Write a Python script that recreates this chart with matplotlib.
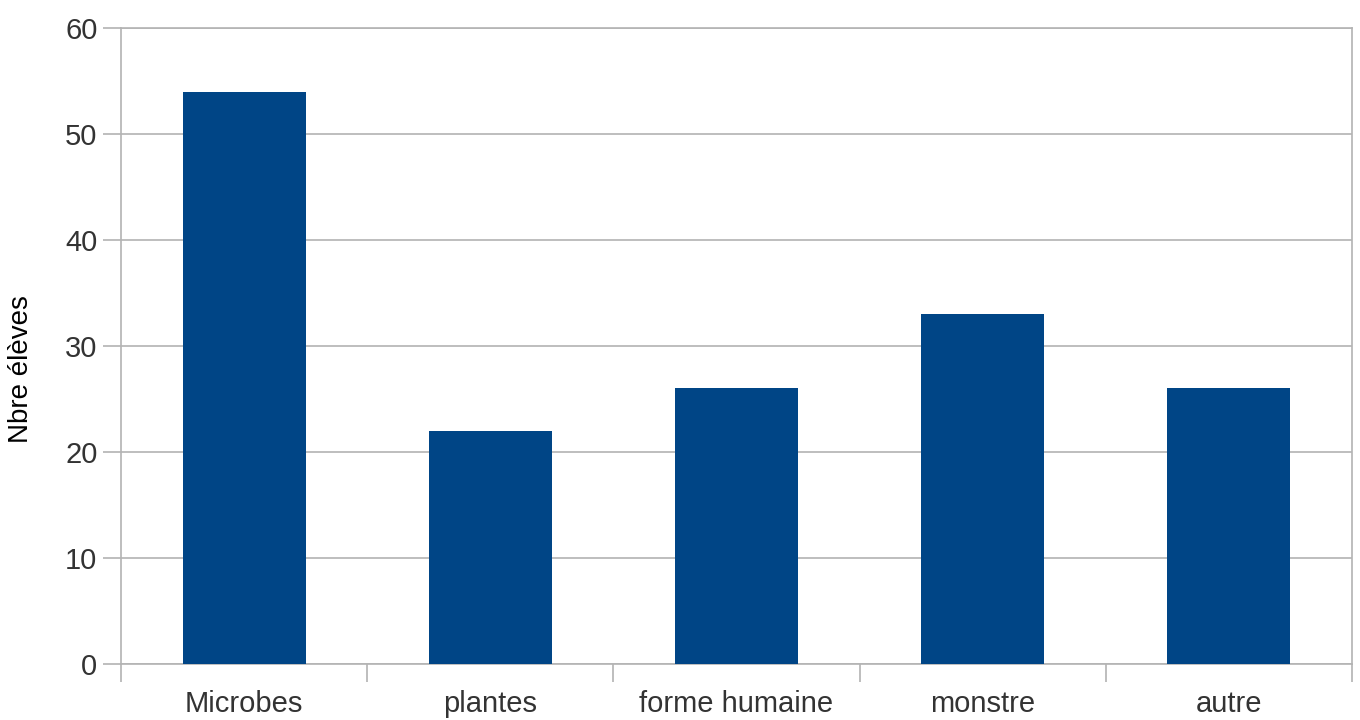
import matplotlib
matplotlib.use('Agg')
import matplotlib.pyplot as plt
import numpy as np

categories = ['Microbes', 'plantes', 'forme humaine', 'monstre', 'autre']
values = [54, 22, 26, 33, 26]

plt.rcParams['font.family'] = ['Liberation Sans', 'DejaVu Sans']

fig = plt.figure(figsize=(13.6, 7.2), dpi=100)
ax = fig.add_axes([0.089, 0.078, 0.905, 0.883])

x = np.arange(len(categories))
ax.bar(x, values, width=0.5, color='#004586', zorder=3)

ax.set_xlim(-0.5, len(categories) - 0.5)
ax.set_ylim(0, 60)
ax.set_yticks(np.arange(0, 61, 10))
ax.yaxis.grid(True, color='#b3b3b3', linewidth=1.2, zorder=0)

ax.set_xticks(x)
ax.set_xticklabels(categories)
ax.set_xticks(np.arange(-0.5, len(categories), 1), minor=True)
ax.tick_params(axis='x', which='major', length=0, pad=19, labelsize=21, labelcolor='#333333')
ax.tick_params(axis='x', which='minor', length=13, width=1.2, color='#b3b3b3')
ax.tick_params(axis='y', length=13, width=1.2, color='#b3b3b3', pad=4, labelsize=21, labelcolor='#333333')

for side in ['left', 'right', 'top', 'bottom']:
    ax.spines[side].set_color('#b3b3b3')
    ax.spines[side].set_linewidth(1.2)

ax.set_ylabel('Nbre élèves', fontsize=20)
ax.yaxis.set_label_coords(-0.071, 0.464)

fig.savefig('out.png', dpi=100)
